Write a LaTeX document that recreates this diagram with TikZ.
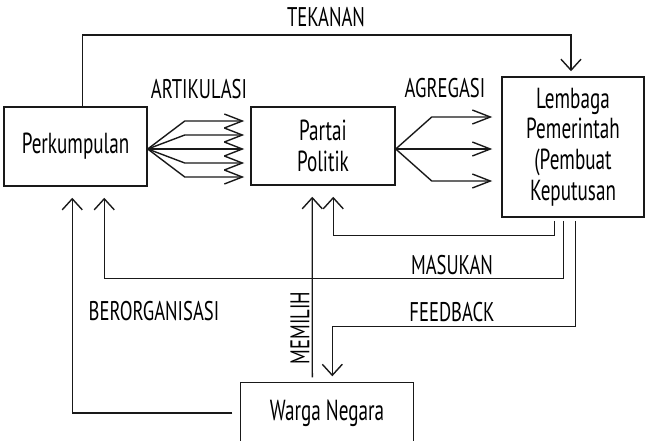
\documentclass[tikz,border=0pt]{standalone}
\usepackage{fontspec}
\setmainfont[FakeStretch=0.66]{PT Sans}
\newfontfamily\lblfont[FakeStretch=0.69]{PT Sans}
\usetikzlibrary{arrows.meta}
\begin{document}
\begin{tikzpicture}[x=1pt,y=-1pt,
  line width=1.4pt, draw=black!90,
  boxnode/.style={draw, line width=1.5pt, inner sep=0pt, font=\fontsize{29}{30.7}\selectfont, align=center},
  lbl/.style={font=\lblfont\fontsize{27}{28}\selectfont, inner sep=0pt},
  harr/.style={-{Straight Barb[length=18pt,width=14pt,line width=1.4pt]}},
  varr/.style={-{Straight Barb[length=11pt,width=20pt,line width=1.4pt]}}]
\useasboundingbox (0,0) rectangle (646,440);
% boxes
\node[boxnode, minimum width=143pt, minimum height=79pt] (perk) at (75.5,146.5) {Perkumpulan};
\node[boxnode, minimum width=144pt, minimum height=78pt] (partai) at (323,146) {Partai\\Politik};
\node[boxnode, minimum width=142pt, minimum height=140pt] (lemb) at (573,147) {Lembaga\\Pemerintah\\(Pembuat\\Keputusan};
\node[inner sep=0pt, minimum width=172pt, minimum height=60pt, font=\fontsize{29}{30}\selectfont] (warga) at (327,413) {Warga Negara};
\draw[line width=1.5pt] (warga.south west) -- (warga.north west) -- (warga.north east) -- (warga.south east);
% labels
\node[lbl] (ltek) at (326,17) {TEKANAN};
\node[lbl] (lart) at (199,89) {ARTIKULASI};
\node[lbl] (lagr) at (445,88) {AGREGASI};
\node[lbl] (lmas) at (452,265) {MASUKAN};
\node[lbl] (lfee) at (452,312) {FEEDBACK};
\node[lbl] (lber) at (154,311) {BERORGANISASI};
\node[lbl, rotate=90] (lmem) at (300,328) {MEMILIH};
% tekanan
\coordinate (tk) at (0,35);
\draw[varr, shorten >=5pt] ([xshift=79pt]perk.north west) -- ([xshift=79pt]perk.north west |- tk) -| ([xshift=-2pt]lemb.north);
% artikulasi fan
\coordinate (fo) at ([yshift=-2.5pt]perk.east);
\foreach \d in {-28,-14,0,14,28}{
  \draw[harr, shorten >=6pt] (fo) -- ++(37,\d) coordinate (b) -- (b -| partai.west);
}
% agregasi fan
\coordinate (go) at ([yshift=-3pt]partai.east);
\foreach \d in {-32,32}{
  \draw[harr, shorten >=9pt] (go) -- ++(36,\d) coordinate (c) -- (c -| lemb.west);
}
\draw[harr, shorten >=9pt] (go) -- (go -| lemb.west);
% masukan to partai
\draw[varr, shorten <=3pt, shorten >=11pt] ([xshift=53pt]lemb.south west) -- ++(0,18) -| ([xshift=83pt]partai.south west);
% masukan to perkumpulan
\draw[varr, shorten <=3pt, shorten >=11pt] ([xshift=62pt]lemb.south west) -- ++(0,61) -| ([xshift=101pt]perk.south west);
% feedback
\draw[varr, shorten <=3pt, shorten >=6pt] ([xshift=74pt]lemb.south west) -- ++(0,109) -| ([xshift=92pt]warga.north west);
% memilih
\draw[varr, shorten <=5pt, shorten >=11pt] ([xshift=72pt]warga.north west) -- ([xshift=62pt]partai.south west);
% berorganisasi
\draw[varr, shorten <=8pt, shorten >=11pt] (warga.west) -| ([xshift=69pt]perk.south west);
\end{tikzpicture}
\end{document}
